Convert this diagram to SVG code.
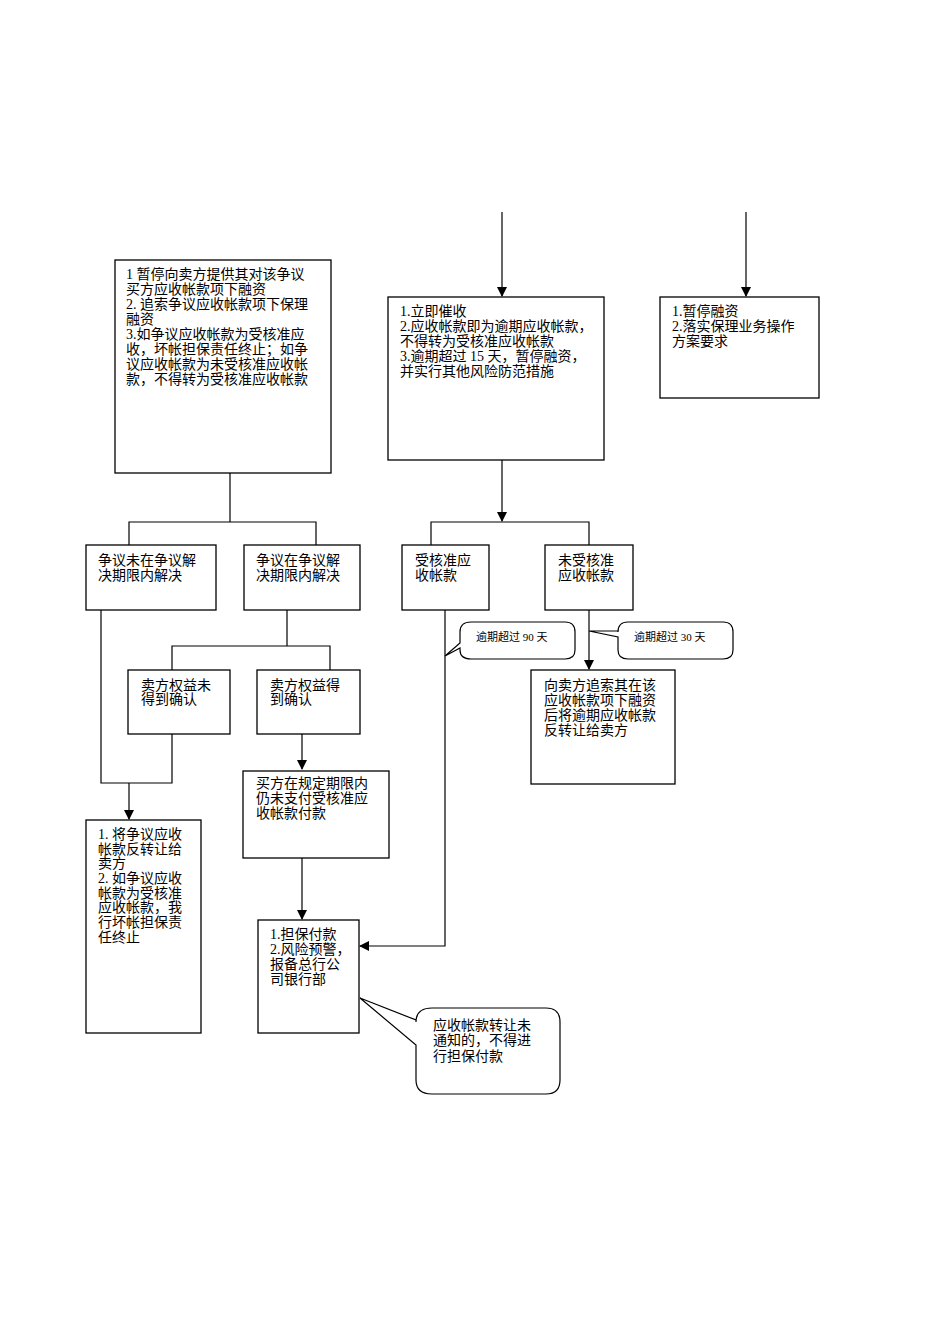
<svg xmlns="http://www.w3.org/2000/svg" width="950" height="1344" viewBox="0 0 950 1344">
<style>
rect.b{fill:#fff;stroke:#000;stroke-width:1.3}
text{font-family:"Liberation Serif","Noto Sans CJK SC",serif;font-size:14px;fill:#000}
.s{font-size:11px}
.c{fill:none;stroke:#000;stroke-width:1.2}
.co{fill:#fff;stroke:#000;stroke-width:1.2}
</style>
<defs><marker id="a" markerWidth="10" markerHeight="10" refX="9" refY="5" orient="auto" markerUnits="userSpaceOnUse"><path d="M0,0L10,5L0,10z" fill="#000"/></marker></defs>
<rect width="950" height="1344" fill="#fff"/>
<g id="connectors">
<path class="c" d="M502,212V296" marker-end="url(#a)"/>
<path class="c" d="M746,212V296" marker-end="url(#a)"/>
<path class="c" d="M230,473V522M129,545V522H316V545"/>
<path class="c" d="M287,610V646M172,670V646H330V670"/>
<path class="c" d="M101,610V783H172V734"/>
<path class="c" d="M129,783V819" marker-end="url(#a)"/>
<path class="c" d="M302,734V769" marker-end="url(#a)"/>
<path class="c" d="M302,858V919" marker-end="url(#a)"/>
<path class="c" d="M502,460V521" marker-end="url(#a)"/>
<path class="c" d="M431,545V522H589V545"/>
<path class="c" d="M589,610V669" marker-end="url(#a)"/>
<path class="c" d="M445,610V946H360" marker-end="url(#a)"/>
</g>
<g id="A"><rect class="b" x="115" y="260" width="216" height="213"/>
<text x="126" y="279">1 暂停向卖方提供其对该争议</text><text x="126" y="294">买方应收帐款项下融资</text><text x="126" y="309">2. 追索争议应收帐款项下保理</text><text x="126" y="324">融资</text><text x="126" y="339">3.如争议应收帐款为受核准应</text><text x="126" y="354">收，坏帐担保责任终止；如争</text><text x="126" y="369">议应收帐款为未受核准应收帐</text><text x="126" y="384">款，不得转为受核准应收帐款</text></g>
<g id="B"><rect class="b" x="86" y="545" width="130" height="65"/><text x="98" y="565">争议未在争议解</text><text x="98" y="580">决期限内解决</text></g>
<g id="C"><rect class="b" x="244" y="545" width="116" height="65"/><text x="256" y="565">争议在争议解</text><text x="256" y="580">决期限内解决</text></g>
<g id="D"><rect class="b" x="128" y="670" width="102" height="64"/><text x="141" y="690">卖方权益未</text><text x="141" y="704">得到确认</text></g>
<g id="E"><rect class="b" x="257" y="670" width="103" height="64"/><text x="270" y="690">卖方权益得</text><text x="270" y="704">到确认</text></g>
<g id="F"><rect class="b" x="243" y="771" width="146" height="87"/><text x="256" y="788">买方在规定期限内</text><text x="256" y="803">仍未支付受核准应</text><text x="256" y="818">收帐款付款</text></g>
<g id="G"><rect class="b" x="86" y="820" width="115" height="213"/><text x="98" y="839">1. 将争议应收</text><text x="98" y="854">帐款反转让给</text><text x="98" y="868">卖方</text><text x="98" y="883">2. 如争议应收</text><text x="98" y="898">帐款为受核准</text><text x="98" y="912">应收帐款，我</text><text x="98" y="927">行坏帐担保责</text><text x="98" y="942">任终止</text></g>
<g id="H"><rect class="b" x="258" y="920" width="101" height="113"/><text x="270" y="939">1.担保付款</text><text x="270" y="954">2.风险预警，</text><text x="270" y="969">报备总行公</text><text x="270" y="984">司银行部</text></g>
<g id="J"><rect class="b" x="388" y="297" width="216" height="163"/><text x="400" y="316">1.立即催收</text><text x="400" y="331">2.应收帐款即为逾期应收帐款，</text><text x="400" y="346">不得转为受核准应收帐款</text><text x="400" y="361">3.逾期超过 15 天，暂停融资，</text><text x="400" y="376">并实行其他风险防范措施</text></g>
<g id="M"><rect class="b" x="660" y="297" width="159" height="101"/><text x="672" y="316">1.暂停融资</text><text x="672" y="331">2.落实保理业务操作</text><text x="672" y="346">方案要求</text></g>
<g id="I"><rect class="b" x="402" y="545" width="87" height="65"/><text x="415" y="565">受核准应</text><text x="415" y="580">收帐款</text></g>
<g id="K"><rect class="b" x="545" y="545" width="88" height="65"/><text x="558" y="565">未受核准</text><text x="558" y="580">应收帐款</text></g>
<g id="L"><rect class="b" x="531" y="670" width="144" height="114"/><text x="544" y="690">向卖方追索其在该</text><text x="544" y="705">应收帐款项下融资</text><text x="544" y="720">后将逾期应收帐款</text><text x="544" y="735">反转让给卖方</text></g>
<g id="callout90"><path class="co" d="M471,622H565Q575,622 575,632V650Q575,659 565,659H471Q460,659 460,650V648L445,656L460,643V632Q460,622 471,622Z"/><text class="s" x="476" y="641">逾期超过 90 天</text></g>
<g id="callout30"><path class="co" d="M628,622H723Q733,622 733,632V650Q733,659 723,659H628Q618,659 618,650V637L589,631L618,631V632Q618,622 628,622Z"/><text class="s" x="634" y="641">逾期超过 30 天</text></g>
<g id="calloutB"><path class="co" d="M432,1008H546Q560,1008 560,1022V1080Q560,1094 546,1094H432Q416,1094 416,1080V1045L360,998L416,1020V1022Q416,1008 432,1008Z"/><text x="433" y="1030">应收帐款转让未</text><text x="433" y="1045">通知的，不得进</text><text x="433" y="1061">行担保付款</text></g>
</svg>
